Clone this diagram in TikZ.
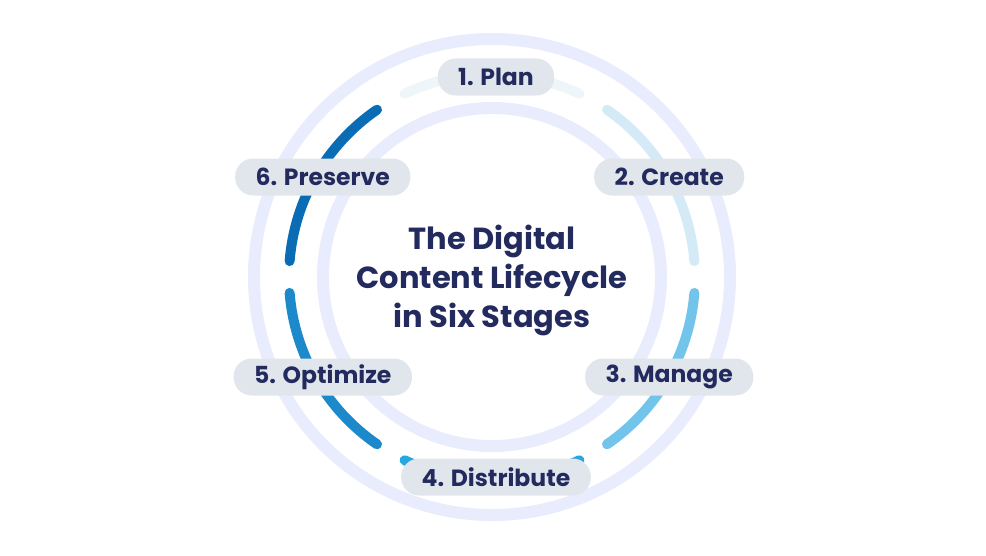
\documentclass[tikz,border=0pt]{standalone}
\usepackage{fontspec}
\setmainfont{Poppins}
\usepackage{xcolor}
\definecolor{ink}{RGB}{ 35,  43,  94}
\definecolor{lavender}{RGB}{232, 236, 252}
\definecolor{pill}{RGB}{225, 230, 237}
\definecolor{stageone}{RGB}{238, 246, 250}
\definecolor{stagetwo}{RGB}{212, 234, 246}
\definecolor{stagethree}{RGB}{114, 196, 234}
\definecolor{stagefour}{RGB}{ 39, 166, 224}
\definecolor{stagefive}{RGB}{ 27, 137, 202}
\definecolor{stagesix}{RGB}{ 11, 108, 182}
\usepackage{tikz}
\usetikzlibrary{positioning, calc}

\tikzset{
  ring/.style={draw=lavender, line width=12pt},
  stagearc/.style={line width=10pt, line cap=round},
  stagelabel/.style={fill=pill, text=ink, font=\fontsize{23.5}{27}\selectfont\bfseries,
    rounded corners=18pt, minimum height=37pt, inner xsep=20.5pt, inner ysep=0pt}
}

\begin{document}
\begin{tikzpicture}[x=1pt, y=1pt]
    \useasboundingbox (-492,-278) rectangle (494,277);

    % the two pale rings
    \draw[ring] (0,0) circle (238);
    \draw[ring] (0,0) circle (169);

    % one arc per stage
    \foreach \ang/\col in {90/stageone, 30/stagetwo, -30/stagethree,
                           -90/stagefour, -150/stagefive, 150/stagesix} {
      \draw[stagearc, draw=\col] (\ang-25.5:203) arc[start angle=\ang-25.5, end angle=\ang+25.5, radius=203];
    }

    \coordinate (hub) at (4,0);
    \node[stagelabel] (plan)       at ($(hub)+(90:200)$)   {1. Plan};
    \node[stagelabel] (create)     at ($(hub)+(30:200)$)   {2. Create};
    \node[stagelabel] (manage)     at ($(hub)+(-30:200)$)  {3. Manage};
    \node[stagelabel] (distribute) at ($(hub)+(-90:200)$)  {4. Distribute};
    \node[stagelabel] (optimize)   at ($(hub)+(-150:200)$) {5. Optimize};
    \node[stagelabel] (preserve)   at ($(hub)+(150:200)$)  {6. Preserve};

    \node[text=ink, align=center, font=\fontsize{30.5}{39}\selectfont\bfseries] (title) at (0,-3)
      {The Digital\\Content Lifecycle\\in Six Stages};
  \end{tikzpicture}
\end{document}
